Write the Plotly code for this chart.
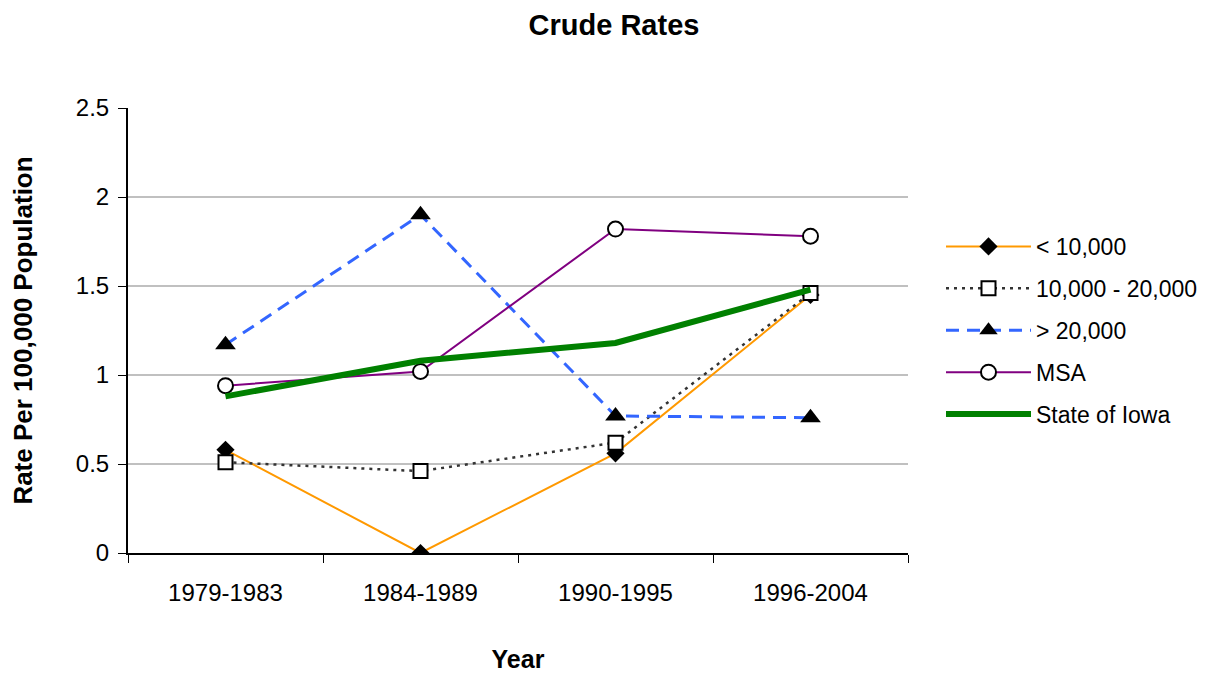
import plotly.graph_objects as go

categories = ["1979-1983", "1984-1989", "1990-1995", "1996-2004"]
lt10k = [0.58, 0.0, 0.56, 1.45]
mid = [0.51, 0.46, 0.62, 1.46]
gt20k = [1.17, 1.90, 0.77, 0.76]
msa = [0.94, 1.02, 1.82, 1.78]
iowa = [0.88, 1.08, 1.18, 1.48]
y_ticks = [0, 0.5, 1, 1.5, 2, 2.5]
y_tick_labels = ["0", "0.5", "1", "1.5", "2", "2.5"]

W, H = 1207, 665  # page adds an 8px body margin

fig = go.Figure()
fig.add_trace(go.Scatter(x=categories, y=lt10k, name="< 10,000", mode="lines+markers",
                         legendgroup="a",
                         line=dict(color="#FF9900", width=2),
                         marker=dict(symbol="diamond", size=14, color="black")))
fig.add_trace(go.Scatter(x=categories, y=mid, name="10,000 - 20,000", mode="lines+markers",
                         legendgroup="b",
                         line=dict(color="#333333", width=2.5, dash="3px,5px"),
                         marker=dict(symbol="square", size=14, color="white",
                                     line=dict(color="black", width=2))))
fig.add_trace(go.Scatter(x=categories, y=gt20k, name="> 20,000", mode="lines+markers",
                         legendgroup="c",
                         line=dict(color="#3366FF", width=3, dash="13px,8px"),
                         marker=dict(symbol="triangle-up", size=18, color="black")))
fig.add_trace(go.Scatter(x=categories, y=msa, name="MSA", mode="lines+markers",
                         legendgroup="d",
                         line=dict(color="#800080", width=2),
                         marker=dict(symbol="circle", size=15, color="white",
                                     line=dict(color="black", width=2))))
fig.add_trace(go.Scatter(x=categories, y=iowa, name="State of Iowa", mode="lines",
                         legendgroup="e",
                         line=dict(color="#008000", width=6)))

fig.update_layout(
    width=W, height=H,
    paper_bgcolor="white", plot_bgcolor="white",
    margin=dict(l=120, r=W - 900, t=100, b=H - 545, autoexpand=False),
    font=dict(family="Liberation Sans, Arial, sans-serif", color="black", size=23),
    title=dict(text="<b>Crude Rates</b>", x=(614 - 8) / W, xref="container", xanchor="center",
               y=1 - (25 - 8) / H, yref="container", yanchor="middle", font=dict(size=29)),
    showlegend=True,
    legend=dict(x=(933 - 120) / 780, y=(545 - 217) / 445, xanchor="left", yanchor="top",
                font=dict(size=23), traceorder="grouped", tracegroupgap=9,
                itemwidth=85, bgcolor="rgba(0,0,0,0)"),
)
fig.update_xaxes(
    type="category", range=[-0.5, 3.5], showline=True, linecolor="black", linewidth=2,
    ticks="outside", tickson="boundaries", ticklen=8, tickcolor="black",
    showgrid=False, mirror=False, ticklabelstandoff=17, automargin=False,
    tickfont=dict(size=24),
    title=dict(text="<b>Year</b>", font=dict(size=25), standoff=46),
)
fig.update_yaxes(
    range=[0, 2.5], tickvals=y_ticks, ticktext=y_tick_labels,
    showline=True, linecolor="black", linewidth=2,
    ticks="outside", ticklen=8, tickcolor="black", automargin=False,
    showgrid=True, gridcolor="#C0C0C0", gridwidth=2, zeroline=False,
    tickfont=dict(size=24), ticklabelstandoff=4,
    title=dict(text="<b>Rate Per 100,000 Population</b>", font=dict(size=26), standoff=37),
)

fig.write_html("out.html")
